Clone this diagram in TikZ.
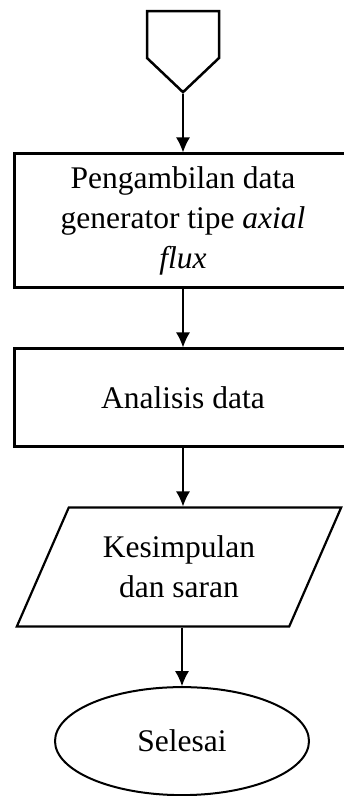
\documentclass[tikz,border=0pt]{standalone}
\usepackage{fontspec}
\setmainfont{Liberation Serif}
\usetikzlibrary{positioning}
\usetikzlibrary{shapes.geometric, shapes.symbols, arrows.meta}
\tikzstyle{offpage} = [signal, signal to=south, signal from=nowhere, signal pointer angle=93, minimum width=72pt, minimum height=47pt, inner sep=0pt, draw=black, line width=2.5pt]
\tikzstyle{process} = [rectangle, minimum width=337pt, minimum height=98pt, text centered, align=center, draw=black, line width=2.5pt]
\tikzstyle{inout} = [trapezium, trapezium left angle=60, trapezium right angle=120, trapezium stretches=true, minimum width=325pt, minimum height=119pt, inner sep=0pt, align=center, draw=black, line width=2.2pt]
\tikzstyle{terminal} = [ellipse, minimum width=254pt, minimum height=108pt, inner sep=0pt, draw=black, line width=2pt]
\tikzstyle{arrow} = [line width=1.3pt, -{Latex[length=15pt, width=14pt]}]

\begin{document}
\begin{tikzpicture}[node distance=58.5pt, x=1pt, y=1pt, font=\fontsize{31.5}{40}\selectfont]

	\useasboundingbox (0,0) rectangle (344,-796);

	\node (offPage) [offpage] at (183,-34.5) {};

	\node (dataCollect) [process, below=of offPage, minimum height=134pt] {Pengambilan data\\generator tipe \textit{axial}\\\textit{flux}};
	\node (dataAnalysis) [process, below=of dataCollect] {Analisis data};

	\node (conclusion) [inout, below=of dataAnalysis, xshift=-4pt] {Kesimpulan\\dan saran};
	\node (finish) [terminal, below=of conclusion, xshift=3pt] {Selesai};

	\draw [arrow] (offPage.south) -- (dataCollect.north);
	\draw [arrow] (dataCollect.south) -- (dataAnalysis.north);
	\draw [arrow] (dataAnalysis.south) -- (dataAnalysis.south |- conclusion.north);
	\draw [arrow] (conclusion.south -| finish.north) -- (finish.north);

\end{tikzpicture}
\end{document}
